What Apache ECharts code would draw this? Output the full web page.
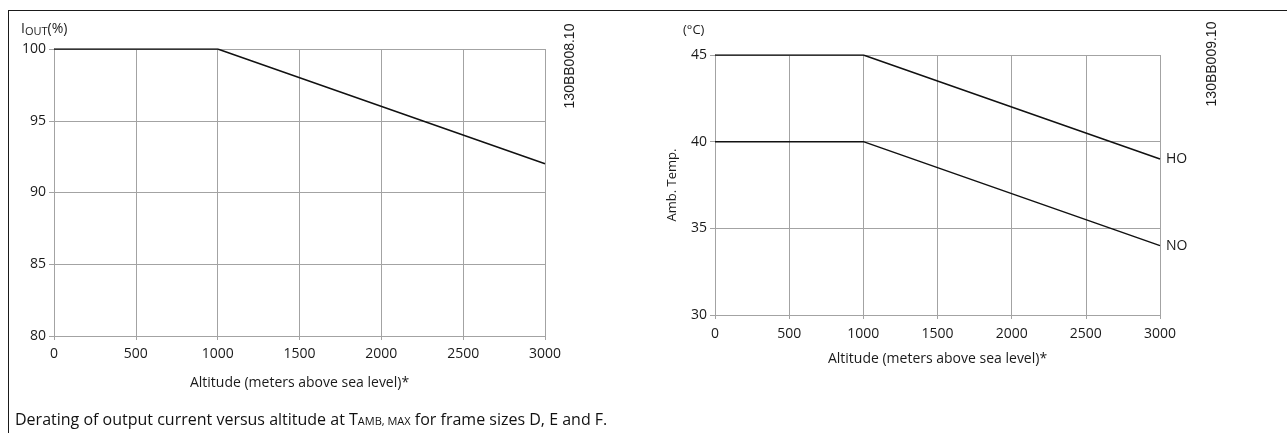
<!DOCTYPE html>
<html>
<head>
<meta charset="utf-8">
<script src="https://cdn.jsdelivr.net/npm/echarts@6/dist/echarts.min.js"></script>
<style>
  html, body { margin: 0; padding: 0; background: #fff; }
  #frame { position: absolute; left: 8px; top: 10px; width: 1279px; height: 423px;
           border-top: 1.5px solid #1a1a1a; border-left: 1.5px solid #1a1a1a; }
  #chart { position: absolute; left: 0; top: 0; width: 1287px; height: 433px; }
</style>
</head>
<body>
<div id="frame"></div>
<div id="chart"></div>
<script>
// altitude breakpoints (m)
var altitude = [0, 1000, 3000];
// left chart: output current derating (%)
var ioutPct = [100, 100, 92];
// right chart: ambient temperature (°C)
var hoTemp = [45, 45, 39];
var noTemp = [40, 40, 34];

var altTicks = { min: 0, max: 3000, step: 500 };
var ioutTicks = { min: 80, max: 100, step: 5 };
var tempTicks = { min: 30, max: 45, step: 5 };

function pairs(xs, ys) {
  return xs.map(function (x, i) { return [x, ys[i]]; });
}

var font = '"Open Sans", "Noto Sans", sans-serif';
var txt = '#1a1a1a';
var gridCol = '#a3a3a3';

function xAxisCfg(idx, gap, margin) {
  return {
    gridIndex: idx, type: 'value',
    min: altTicks.min, max: altTicks.max, interval: altTicks.step,
    name: 'Altitude (meters above sea level)*',
    nameLocation: 'middle', nameGap: gap,
    nameTextStyle: { color: txt, fontFamily: font, fontSize: 14 },
    axisLine: { show: true, lineStyle: { color: gridCol, width: 1 } },
    axisTick: { show: true, length: 4, lineStyle: { color: gridCol } },
    axisLabel: { color: txt, fontFamily: font, fontSize: 14, margin: margin,
                 formatter: function (v) { return String(v); } },
    splitLine: { show: true, lineStyle: { color: gridCol, width: 1 } }
  };
}

function yAxisCfg(idx, t) {
  return {
    gridIndex: idx, type: 'value',
    min: t.min, max: t.max, interval: t.step,
    axisLine: { show: true, lineStyle: { color: gridCol, width: 1 } },
    axisTick: { show: true, length: 5, lineStyle: { color: gridCol } },
    axisLabel: { color: txt, fontFamily: font, fontSize: 14, margin: 8 },
    splitLine: { show: true, lineStyle: { color: gridCol, width: 1 } }
  };
}

var lineStyle = { color: '#111', width: 1.5 };

var chart = echarts.init(document.getElementById('chart'));
var yRight = yAxisCfg(1, tempTicks);
yRight.name = 'Amb. Temp.';
yRight.nameLocation = 'middle';
yRight.nameGap = 36;
yRight.nameRotate = 90;
yRight.nameTextStyle = { color: txt, fontFamily: font, fontSize: 13 };

chart.setOption({
  animation: false,
  backgroundColor: 'transparent',
  grid: [
    { left: 54, top: 49, width: 491, height: 287 },
    { left: 715, top: 55, width: 445, height: 260 }
  ],
  xAxis: [xAxisCfg(0, 40, 11), xAxisCfg(1, 37, 12)],
  yAxis: [yAxisCfg(0, ioutTicks), yRight],
  series: [
    {
      type: 'line', xAxisIndex: 0, yAxisIndex: 0, name: 'Iout',
      data: pairs(altitude, ioutPct), showSymbol: false, lineStyle: lineStyle
    },
    {
      type: 'line', xAxisIndex: 1, yAxisIndex: 1, name: 'HO',
      data: pairs(altitude, hoTemp), showSymbol: false, lineStyle: lineStyle,
      endLabel: { show: true, formatter: '{a}', color: txt, fontFamily: font, fontSize: 14, distance: 6 }
    },
    {
      type: 'line', xAxisIndex: 1, yAxisIndex: 1, name: 'NO',
      data: pairs(altitude, noTemp), showSymbol: false, lineStyle: lineStyle,
      endLabel: { show: true, formatter: '{a}', color: txt, fontFamily: font, fontSize: 14, distance: 6 }
    }
  ],
  graphic: [
    {
      type: 'text', left: 21, top: 22,
      style: {
        text: '{a|I}{b|OUT}{a|(%)}', fill: txt,
        rich: {
          a: { fontFamily: font, fontSize: 14, fill: txt },
          b: { fontFamily: font, fontSize: 11, fill: txt, verticalAlign: 'bottom', padding: [5, 0, 0, 0] }
        }
      }
    },
    {
      type: 'text', left: 683, top: 24,
      style: { text: '(°C)', fill: txt, font: '13px ' + font }
    },
    {
      type: 'text', x: 570, y: 66, rotation: Math.PI / 2,
      style: { text: '130BB008.10', fill: txt, font: '14px "Liberation Sans", Arial, sans-serif', align: 'center', verticalAlign: 'middle' }
    },
    {
      type: 'text', x: 1212, y: 64, rotation: Math.PI / 2,
      style: { text: '130BB009.10', fill: txt, font: '14px "Liberation Sans", Arial, sans-serif', align: 'center', verticalAlign: 'middle' }
    },
    {
      type: 'text', left: 15, top: 412,
      style: {
        text: '{a|Derating of output current versus altitude at T}{b|AMB, MAX}{a| for frame sizes D, E and F.}',
        rich: {
          a: { fontFamily: font, fontSize: 16, fill: '#111' },
          b: { fontFamily: font, fontSize: 11, fill: '#111', padding: [3, 0, 0, 0] }
        }
      }
    }
  ]
});
</script>
</body>
</html>
